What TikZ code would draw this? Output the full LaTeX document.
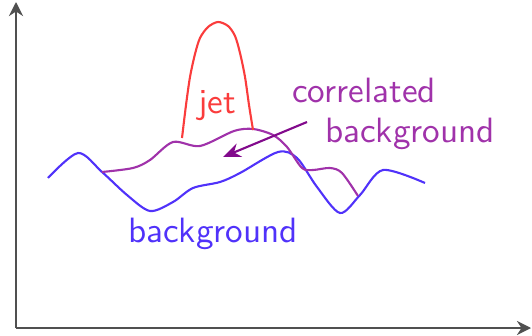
\documentclass[tikz,border=0pt]{standalone}
\usepackage{xcolor}
\usepackage{tikz}
\usetikzlibrary{arrows.meta}

\definecolor{jetred}{RGB}{250,60,60}
\definecolor{bkgblue}{RGB}{80,50,250}
\definecolor{corrpurple}{RGB}{160,50,170}
\definecolor{arrowpurple}{RGB}{130,10,140}
\definecolor{axisgray}{RGB}{80,80,80}

\begin{document}
\begin{tikzpicture}[x=0.1mm,y=-0.1mm,
  axis/.style={draw=axisgray,line width=0.8pt,-{Stealth[length=4pt,width=4pt]}},
  curve/.style={line width=0.6pt},
  every node/.style={font=\sffamily,inner sep=0pt}]
\useasboundingbox (0,0) rectangle (532,335);
% axes
\coordinate (origin) at (16,328);
\coordinate (ytop) at (16,2);
\coordinate (xend) at (531,328);
\draw[axis] (origin) -- (ytop);
\draw[axis] (origin) -- (xend);
% curves
\draw[curve,bkgblue] plot[smooth] coordinates {(48,178) (78,153) (102,172) (127,195)
  (150,211) (173,202) (193,188) (220,182) (240,173) (278,152) (297,158) (317,187)
  (340,213) (360,195) (383,170) (425,183)};
\draw[curve,corrpurple] plot[smooth] coordinates {(102,172) (133,168) (150,160) (173,142)
  (200,146) (234,131) (253,129) (273,135) (287,147) (302,168) (313,170) (330,168)
  (342,173) (358,196)};
\draw[curve,jetred] plot[smooth] coordinates {(182,138) (186,105) (190,77) (195,54)
  (200,38) (208,27) (218,22) (228,26) (235,36) (240,53) (245,77) (249,105) (253,130)};
% labels
\node[jetred] (jet) at (217,106) {jet};
\node[corrpurple] (corr) at (364,90) {correlated};
\node[corrpurple] (corrbkg) at (410,134) {background};
\node[bkgblue] (bkg) at (213,234) {background};
\coordinate (arrowstart) at (307,122);
\coordinate (arrowtip) at (223,157);
\draw[line width=0.6pt,arrowpurple,-{Stealth[length=5pt,width=4pt]}] (arrowstart) -- (arrowtip);
\end{tikzpicture}
\end{document}
